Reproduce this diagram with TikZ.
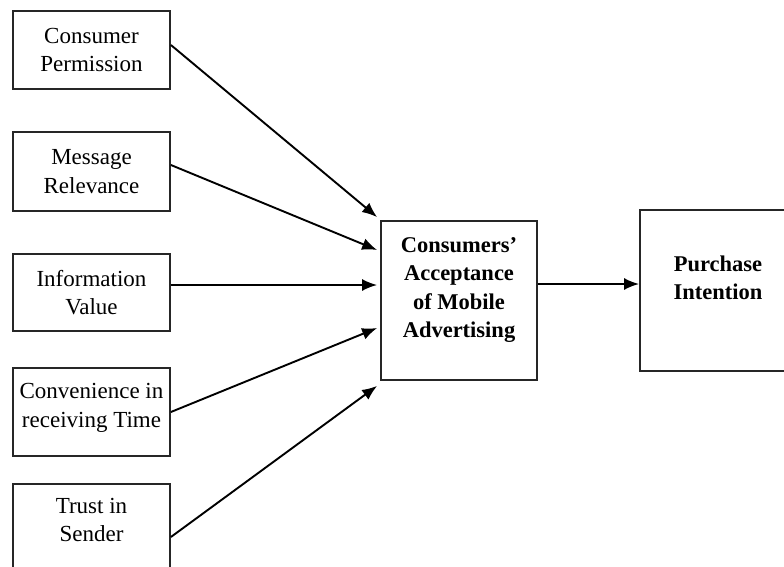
\documentclass[tikz,border=0pt]{standalone}
\usepackage{fontspec}
\setmainfont{Liberation Serif}
\usetikzlibrary{arrows.meta}

\begin{document}
\begin{tikzpicture}[x=1pt,y=-1pt,
    box/.style={draw=black!85, line width=1.8pt, align=center, inner sep=0pt,
      font=\fontsize{23}{28.5}\selectfont},
    srcbox/.style={box, minimum width=157pt},
    bigbox/.style={box, minimum width=156pt, font=\fontsize{22.5}{28.5}\selectfont\bfseries},
    arr/.style={line width=1.9pt, -{Latex[length=15pt,width=12pt]}}]
  \useasboundingbox (0,0) rectangle (784,567);
  \clip (0,0) rectangle (784,567);

  % FACTEURS
  \node[srcbox, minimum height=78pt] (perm)  at (91.5,50)    {Consumer\\Permission};
  \node[srcbox, minimum height=79pt] (relev) at (91.5,171.5) {Message\\Relevance};
  \node[srcbox, minimum height=77pt] (info)  at (91.5,292.5) {Information\\Value};
  \node[srcbox, minimum height=88pt] (conv)  at (91.5,412)   {Convenience in\\receiving Time\\[-15.5pt]};
  \node[srcbox, minimum height=88pt] (trust) at (91.5,528)   {Trust in\\Sender\\[-12.5pt]};

  % ACCEPTATION ET INTENTION
  \node[bigbox, minimum height=159pt] (accept) at (459,300.5)
    {Consumers'\\Acceptance\\of Mobile\\Advertising\\[-2.5pt]};
  \node[bigbox, minimum height=161pt] (intent) at (718,290.5)
    {Purchase\\Intention\\[-2.5pt]};

  % FLECHES
  \draw[arr] ([yshift=5pt]perm.east)    -- ([xshift=-3pt,yshift=3pt]accept.north west);
  \draw[arr] ([yshift=6.5pt]relev.east) -- ([xshift=-3pt,yshift=50.5pt]accept.west);
  \draw[arr] ([yshift=7.5pt]info.east)  -- ([xshift=-3pt,yshift=15.5pt]accept.west);
  \draw[arr] (conv.east)                -- ([xshift=-3pt,yshift=-27.5pt]accept.west);
  \draw[arr] ([yshift=-9pt]trust.east)  -- ([xshift=-3pt,yshift=-5pt]accept.south west);

  \coordinate (out) at ([yshift=16.5pt]accept.east);
  \draw[arr] (out) -- (intent.west |- out);
\end{tikzpicture}
\end{document}
